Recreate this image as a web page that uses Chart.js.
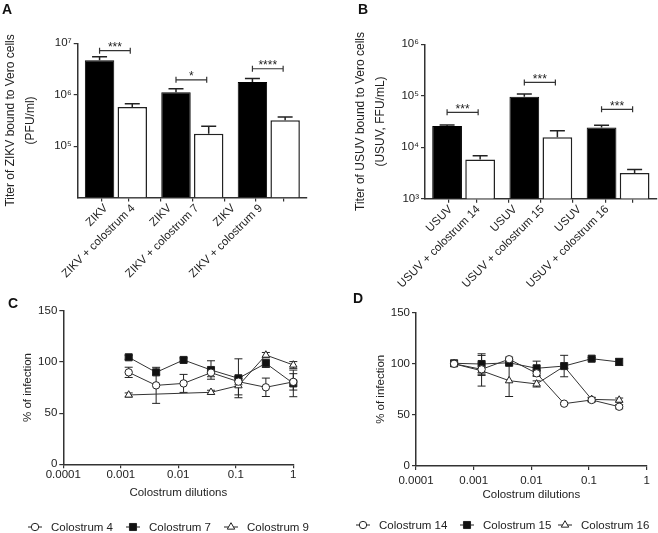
<!DOCTYPE html>
<html>

<head>
    <meta charset="utf-8">
    <title>Colostrum and virus binding</title>
    <script src="https://cdn.jsdelivr.net/npm/chart.js"></script>
    <style>
        body {
            margin: 0;
            background: #fff;
        }

        #fig {
            position: relative;
            width: 658px;
            height: 533px;
            overflow: hidden;
            font-family: Arial, "Liberation Sans", Helvetica, sans-serif;
        }

        #fig canvas {
            position: absolute;
        }

        .tag {
            position: absolute;
            font-weight: bold;
            font-size: 14px;
            line-height: 14px;
            color: #111;
        }
    </style>
</head>

<body>
    <div id="fig">
        <canvas id="panel-a" width="330" height="290" style="left:0;top:0"></canvas>
        <canvas id="panel-b" width="328" height="290" style="left:330px;top:0"></canvas>
        <canvas id="panel-c" width="330" height="243" style="left:0;top:290px"></canvas>
        <canvas id="panel-d" width="328" height="243" style="left:330px;top:290px"></canvas>
        <div class="tag" style="left:2px;top:2px">A</div>
        <div class="tag" style="left:358px;top:2px">B</div>
        <div class="tag" style="left:8px;top:296px">C</div>
        <div class="tag" style="left:353px;top:291px">D</div>
    </div>
    <script>
        // ---- panel A : ZIKV titers ----
        const zikvGroups = ['4', '7', '9'];
        const zikvTickLabels = ['ZIKV', 'ZIKV + colostrum 4', 'ZIKV', 'ZIKV + colostrum 7', 'ZIKV', 'ZIKV + colostrum 9'];
        const zikvAlone = [4.7e6, 1.11e6, 1.76e6];
        const zikvAloneErr = [0.8e6, 0.19e6, 0.31e6];
        const zikvColostrum = [5.75e5, 1.73e5, 3.18e5];
        const zikvColostrumErr = [0.95e5, 0.71e5, 0.52e5];
        const zikvStars = ['***', '*', '****'];
        const zikvBracket = [7.2e6, 1.95e6, 3.2e6];
        const zikvYTicks = [1e5, 1e6, 1e7];
        const zikvYLabels = ['10⁵', '10⁶', '10⁷'];

        // ---- panel B : USUV titers ----
        const usuvGroups = ['14', '15', '16'];
        const usuvTickLabels = ['USUV', 'USUV + colostrum 14', 'USUV', 'USUV + colostrum 15', 'USUV', 'USUV + colostrum 16'];
        const usuvAlone = [2.58e4, 9.6e4, 2.43e4];
        const usuvAloneErr = [0.12e4, 1.2e4, 0.23e4];
        const usuvColostrum = [5.8e3, 1.56e4, 3.16e3];
        const usuvColostrumErr = [1.0e3, 0.54e4, 0.54e3];
        const usuvStars = ['***', '***', '***'];
        const usuvBracket = [4.76e4, 1.82e5, 5.45e4];
        const usuvYTicks = [1e3, 1e4, 1e5, 1e6];
        const usuvYLabels = ['10³', '10⁴', '10⁵', '10⁶'];

        // ---- panel C : ZIKV infection vs colostrum dilution ----
        const dilutionsC = [1 / 729, 1 / 243, 1 / 81, 1 / 27, 1 / 9, 1 / 3, 1];
        const col4 = [89.8, 77.1, 79, 89.5, 80.7, 75.2, 80.5];
        const col4Err = [5, 17.6, 8.8, 4, 3, 9, 8];
        const col7 = [104.5, 89.8, 101.9, 92.1, 84, 98.6, 79];
        const col7Err = [2, 2, 2, 9, 19, 4, 13];
        const col9 = [67.7, null, null, 70.3, 76.8, 106.7, 97];
        const col9Err = [2, null, null, 2, 9, 2.5, 3.3];

        // ---- panel D : USUV infection vs colostrum dilution ----
        const dilutionsD = [1 / 2187, 1 / 729, 1 / 243, 1 / 81, 1 / 27, 1 / 9, 1 / 3];
        const col14 = [100, 94.6, 104.5, 90.7, 61, 64.6, 58];
        const col14Err = [1, 6, 2, 3, 1, 2, 2];
        const col15 = [100.5, 99.8, 101, 95.6, 97.8, 105, 101.8];
        const col15Err = [1, 10, 1, 7, 10.5, 1, 3.5];
        const col16 = [100, 93.2, 83.5, 80.3, 97.5, 65.2, 64.5];
        const col16Err = [1, 15, 15.5, 3, 2, 2, 2];

        const dilutionTicks = [1e-4, 1e-3, 1e-2, 1e-1, 1];
        const dilutionLabels = ['0.0001', '0.001', '0.01', '0.1', '1'];
        const percentTicks = [0, 50, 100, 150];

        const FONT = 'Arial, "Liberation Sans", Helvetica, sans-serif';
        const AXIS = '#333';
        Chart.defaults.font.family = FONT;
        Chart.defaults.color = '#222';

        const CAT_PCT = 0.856;
        const BAR_PCT = 0.9;

        // error bars, read from dataset.errors or point.e
        const errorBars = {
            id: 'errorBars',
            beforeDatasetsDraw(chart, args, opts) { if (!opts.upOnly) drawErrors(chart, opts); },
            afterDatasetsDraw(chart, args, opts) { if (opts.upOnly) drawErrors(chart, opts); }
        };

        function drawErrors(chart, opts) {
            const ctx = chart.ctx;
            ctx.save();
            ctx.strokeStyle = '#222';
            ctx.lineWidth = opts.width || 1;
            chart.data.datasets.forEach((ds, i) => {
                const meta = chart.getDatasetMeta(i);
                const ys = chart.scales[meta.yAxisID];
                meta.data.forEach((el, j) => {
                    const raw = ds.data[j];
                    const v = typeof raw === 'object' ? raw.y : raw;
                    const e = typeof raw === 'object' ? raw.e : ds.errors[j];
                    if (v == null || !e) return;
                    const top = ys.getPixelForValue(v + e);
                    const bot = opts.upOnly ? el.y : ys.getPixelForValue(v - e);
                    ctx.beginPath();
                    ctx.moveTo(el.x, bot);
                    ctx.lineTo(el.x, top);
                    ctx.moveTo(el.x - opts.cap, top);
                    ctx.lineTo(el.x + opts.cap, top);
                    if (!opts.upOnly) {
                        ctx.moveTo(el.x - opts.cap, bot);
                        ctx.lineTo(el.x + opts.cap, bot);
                    }
                    ctx.stroke();
                });
            });
            ctx.restore();
        }

        // significance brackets between the two bars of each group
        const brackets = {
            id: 'brackets',
            afterDatasetsDraw(chart, args, opts) {
                const ctx = chart.ctx;
                const ys = chart.scales.y;
                const a = chart.getDatasetMeta(0).data;
                const b = chart.getDatasetMeta(1).data;
                ctx.save();
                ctx.strokeStyle = '#333';
                ctx.fillStyle = '#222';
                ctx.lineWidth = 1.2;
                ctx.font = '12px ' + FONT;
                ctx.textAlign = 'center';
                ctx.textBaseline = 'alphabetic';
                opts.levels.forEach((lv, g) => {
                    const y = ys.getPixelForValue(lv);
                    const x1 = a[g].x, x2 = b[g].x - 2;
                    ctx.beginPath();
                    ctx.moveTo(x1, y);
                    ctx.lineTo(x2, y);
                    ctx.moveTo(x1, y - 3);
                    ctx.lineTo(x1, y + 3);
                    ctx.moveTo(x2, y - 3);
                    ctx.lineTo(x2, y + 3);
                    ctx.stroke();
                    ctx.fillText(opts.stars[g], (x1 + x2) / 2, y + 0.5);
                });
                ctx.restore();
            }
        };

        function drawMarker(ctx, style, x, y, r, fill) {
            ctx.beginPath();
            if (style === 'rect') {
                const s = Math.SQRT1_2 * r;
                ctx.rect(x - s, y - s, 2 * s, 2 * s);
            } else if (style === 'triangle') {
                let a = 0;
                ctx.moveTo(x + Math.sin(a) * r, y - Math.cos(a) * r);
                a += 2 * Math.PI / 3;
                ctx.lineTo(x + Math.sin(a) * r, y - Math.cos(a) * r);
                a += 2 * Math.PI / 3;
                ctx.lineTo(x + Math.sin(a) * r, y - Math.cos(a) * r);
                ctx.closePath();
            } else {
                ctx.arc(x, y, r, 0, Math.PI * 2);
            }
            ctx.fillStyle = fill;
            ctx.fill();
            ctx.stroke();
        }

        // "-o- label" legend row under the line panels
        const markerLegend = {
            id: 'markerLegend',
            afterDraw(chart, args, opts) {
                const ctx = chart.ctx;
                ctx.save();
                ctx.font = '11.5px ' + FONT;
                ctx.textBaseline = 'middle';
                ctx.textAlign = 'left';
                chart.data.datasets.forEach((ds, i) => {
                    const x = opts.x[i], y = opts.y;
                    ctx.strokeStyle = '#222';
                    ctx.lineWidth = 1;
                    ctx.beginPath();
                    ctx.moveTo(x - 7, y);
                    ctx.lineTo(x + 7, y);
                    ctx.stroke();
                    drawMarker(ctx, ds.pointStyle, x, y, ds.pointRadius, ds.pointBackgroundColor);
                    ctx.fillStyle = '#222';
                    ctx.fillText(ds.label, x + opts.gap, y + 0.5);
                });
                ctx.restore();
            }
        };

        function barPanel(id, p) {
            const tickPos = p.groups.flatMap((g, i) => [i - CAT_PCT / 4, i + CAT_PCT / 4]);
            return new Chart(document.getElementById(id), {
                type: 'bar',
                data: {
                    labels: p.groups,
                    datasets: [{
                        label: 'virus',
                        data: p.alone,
                        errors: p.aloneErr,
                        backgroundColor: '#000',
                        borderColor: '#000',
                        borderWidth: 1,
                        categoryPercentage: CAT_PCT,
                        barPercentage: BAR_PCT
                    }, {
                        label: 'virus + colostrum',
                        data: p.treated,
                        errors: p.treatedErr,
                        backgroundColor: '#fff',
                        borderColor: '#222',
                        borderWidth: 1.5,
                        categoryPercentage: CAT_PCT,
                        barPercentage: BAR_PCT
                    }]
                },
                options: {
                    responsive: false,
                    animation: false,
                    devicePixelRatio: 1,
                    layout: { padding: p.padding },
                    plugins: {
                        legend: { display: false },
                        tooltip: { enabled: false },
                        errorBars: { upOnly: true, cap: 7.5, width: 1.5 },
                        brackets: { levels: p.bracket, stars: p.stars }
                    },
                    scales: {
                        x: { type: 'category', display: false },
                        xl: {
                            type: 'linear',
                            position: 'bottom',
                            min: -0.5,
                            max: p.groups.length - 0.5,
                            afterBuildTicks: s => { s.ticks = tickPos.map(v => ({ value: v })); },
                            afterFit: s => { s.height = p.xHeight; s.paddingLeft = 0; s.paddingRight = 0; },
                            ticks: {
                                autoSkip: false,
                                minRotation: 45,
                                maxRotation: 45,
                                padding: 0,
                                labelOffset: p.labelShift,
                                font: { size: 11.5 },
                                callback: (v, i) => p.tickLabels[i]
                            },
                            grid: { drawOnChartArea: false, tickLength: 4, color: AXIS, lineWidth: 1.2 },
                            border: { color: AXIS, width: 1.5 }
                        },
                        y: {
                            type: 'logarithmic',
                            min: p.yMin,
                            max: p.yMax,
                            afterBuildTicks: s => { s.ticks = p.yTicks.map(v => ({ value: v })); },
                            afterFit: s => { s.width = p.yWidth; s.paddingTop = 0; s.paddingBottom = 0; },
                            ticks: {
                                padding: 2,
                                font: { size: 11.5 },
                                callback: (v, i) => p.yLabels[i]
                            },
                            grid: { drawOnChartArea: false, tickLength: 4, color: AXIS, lineWidth: 1.2 },
                            border: { color: AXIS, width: 1.5 },
                            title: {
                                display: true,
                                text: p.yTitle,
                                font: { size: 12, lineHeight: 1.7 },
                                padding: { top: p.titlePad, bottom: 0 }
                            }
                        }
                    }
                },
                plugins: [errorBars, brackets]
            });
        }

        const markerStyle = {
            circle: { r: 3.7, fill: '#fff' },
            rect: { r: 5, fill: '#111' },
            triangle: { r: 4.3, fill: '#fff' }
        };

        function series(label, xs, ys, errs, style) {
            return {
                label: label,
                data: xs.map((x, i) => ({ x: x, y: ys[i], e: errs[i] })).filter(pt => pt.y !== null),
                pointStyle: style,
                pointRadius: markerStyle[style].r,
                pointBackgroundColor: markerStyle[style].fill,
                pointBorderColor: '#222',
                pointBorderWidth: 1,
                borderColor: '#333',
                borderWidth: 1,
                tension: 0,
                clip: false
            };
        }

        function linePanel(id, p) {
            return new Chart(document.getElementById(id), {
                type: 'line',
                data: { datasets: p.datasets },
                options: {
                    responsive: false,
                    animation: false,
                    devicePixelRatio: 1,
                    layout: { padding: p.padding },
                    plugins: {
                        legend: { display: false },
                        tooltip: { enabled: false },
                        errorBars: { upOnly: false, cap: 4, width: 1 },
                        markerLegend: { x: p.legendX, y: p.legendY, gap: p.legendGap }
                    },
                    scales: {
                        x: {
                            type: 'logarithmic',
                            min: 1e-4,
                            max: 1,
                            afterBuildTicks: s => { s.ticks = dilutionTicks.map(v => ({ value: v })); },
                            afterFit: s => { s.height = p.xHeight; s.paddingLeft = 0; s.paddingRight = 0; },
                            ticks: {
                                autoSkip: false,
                                maxRotation: 0,
                                padding: p.xTickPad,
                                font: { size: 11.5 },
                                callback: (v, i) => dilutionLabels[i]
                            },
                            grid: { drawOnChartArea: false, tickLength: 4, color: AXIS, lineWidth: 1.2 },
                            border: { color: AXIS, width: 1.5 },
                            title: {
                                display: true,
                                text: 'Colostrum dilutions',
                                font: { size: 11.5 },
                                padding: { top: 0, bottom: p.xTitlePad }
                            }
                        },
                        y: {
                            type: 'linear',
                            min: 0,
                            max: 150,
                            afterBuildTicks: s => { s.ticks = percentTicks.map(v => ({ value: v })); },
                            afterFit: s => { s.width = p.yWidth; s.paddingTop = 0; s.paddingBottom = 0; },
                            ticks: { padding: 2, font: { size: 11.5 } },
                            grid: { drawOnChartArea: false, tickLength: 4, color: AXIS, lineWidth: 1.2 },
                            border: { color: AXIS, width: 1.5 },
                            title: {
                                display: true,
                                text: '% of infection',
                                font: { size: 11.5 },
                                padding: { top: p.yTitlePad, bottom: 0 }
                            }
                        }
                    }
                },
                plugins: [errorBars, markerLegend]
            });
        }

        barPanel('panel-a', {
            groups: zikvGroups, tickLabels: zikvTickLabels,
            alone: zikvAlone, aloneErr: zikvAloneErr,
            treated: zikvColostrum, treatedErr: zikvColostrumErr,
            stars: zikvStars, bracket: zikvBracket,
            yMin: 1e4, yMax: 1e7, yTicks: zikvYTicks, yLabels: zikvYLabels,
            yTitle: ['Titer of ZIKV bound to Vero cells', '(PFU/ml)'],
            padding: { top: 43.3, right: 23, bottom: 0, left: 0 },
            yWidth: 77.7, xHeight: 92.5, titlePad: 0, labelShift: -9
        });

        barPanel('panel-b', {
            groups: usuvGroups, tickLabels: usuvTickLabels,
            alone: usuvAlone, aloneErr: usuvAloneErr,
            treated: usuvColostrum, treatedErr: usuvColostrumErr,
            stars: usuvStars, bracket: usuvBracket,
            yMin: 1e3, yMax: 1e6, yTicks: usuvYTicks, yLabels: usuvYLabels,
            yTitle: ['Titer of USUV bound to Vero cells', '(USUV, FFU/mL)'],
            padding: { top: 44.3, right: 1.3, bottom: 0, left: 0 },
            yWidth: 95, xHeight: 91.3, titlePad: 20.5, labelShift: -12
        });

        linePanel('panel-c', {
            datasets: [
                series('Colostrum 4', dilutionsC, col4, col4Err, 'circle'),
                series('Colostrum 7', dilutionsC, col7, col7Err, 'rect'),
                series('Colostrum 9', dilutionsC, col9, col9Err, 'triangle')
            ],
            padding: { top: 20.7, right: 36.7, bottom: 0, left: 0 },
            yWidth: 63.3, xHeight: 68.7, xTickPad: -0.5, xTitlePad: 33.4, yTitlePad: 21.4,
            legendX: [35, 133, 231], legendY: 237, legendGap: 16
        });

        linePanel('panel-d', {
            datasets: [
                series('Colostrum 14', dilutionsD, col14, col14Err, 'circle'),
                series('Colostrum 15', dilutionsD, col15, col15Err, 'rect'),
                series('Colostrum 16', dilutionsD, col16, col16Err, 'triangle')
            ],
            padding: { top: 22.7, right: 11.3, bottom: 0, left: 0 },
            yWidth: 86, xHeight: 67, xTickPad: 4, xTitlePad: 31.1, yTitlePad: 43.8,
            legendX: [33, 137, 235], legendY: 235, legendGap: 16
        });
    </script>
</body>

</html>
